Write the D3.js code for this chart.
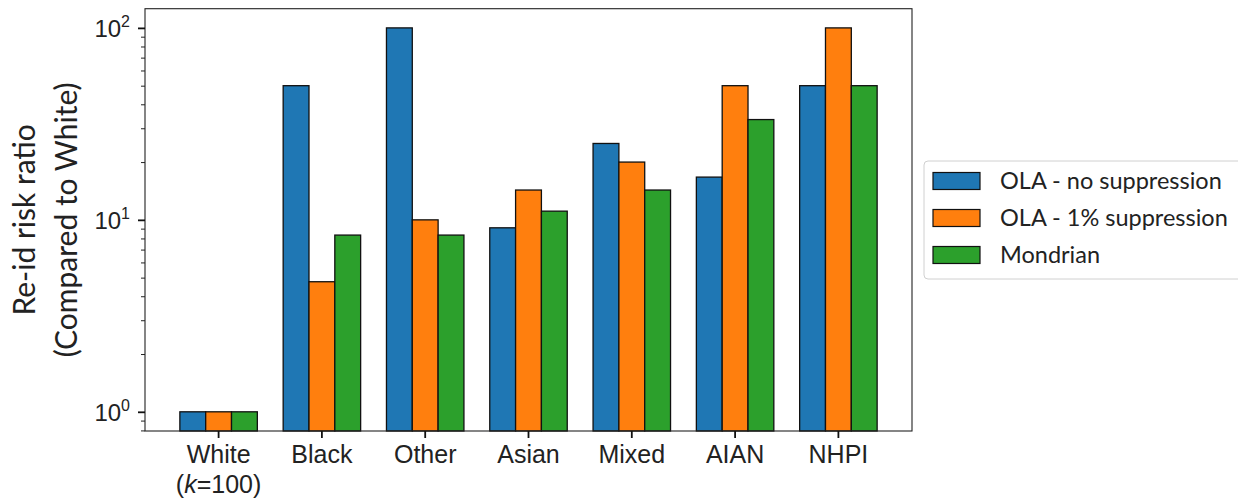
<!DOCTYPE html>
<html>
<head>
<meta charset="utf-8">
<script src="https://cdn.jsdelivr.net/npm/d3@7"></script>
<style>
  html, body { margin: 0; padding: 0; background: #fff; }
  svg { display: block; font-family: Lato, "DejaVu Sans", sans-serif; }
</style>
</head>
<body>
<svg id="chart" width="1238" height="502"></svg>
<script>
// Re-identification risk per group, relative to the White group (k = 100)
const groups = ["White", "Black", "Other", "Asian", "Mixed", "AIAN", "NHPI"];
const seriesNames = ["OLA - no suppression", "OLA - 1% suppression", "Mondrian"];
const olaNoSuppression = [1, 50, 100, 9.09, 25, 16.7, 50];
const ola1Suppression  = [1, 4.76, 10, 14.3, 20, 50, 100];
const mondrian         = [1, 8.33, 8.33, 11.1, 14.3, 33.3, 50];
const seriesColors = ["#1f77b4", "#ff7f0e", "#2ca02c"];
const yMajorTicks = [1, 10, 100];
const yTickExponents = ["0", "1", "2"];

const series = [olaNoSuppression, ola1Suppression, mondrian];

const svg = d3.select("#chart");
const plotLeft = 145, plotRight = 912, plotTop = 8.7, plotBottom = 431;

const x = d3.scaleBand()
  .domain(groups)
  .range([plotLeft, plotRight])
  .paddingInner(0.25)
  .paddingOuter(0.3375);

const xSub = d3.scaleBand()
  .domain(d3.range(series.length))
  .range([0, x.bandwidth()]);

const y = d3.scaleLog()
  .domain([Math.pow(10, -0.1), Math.pow(10, 2.1)])
  .range([plotBottom, plotTop]);

// bars
const plot = svg.append("g");
series.forEach((vals, si) => {
  plot.selectAll(null)
    .data(groups.map((g, i) => ({ g, v: vals[i] })))
    .join("rect")
    .attr("x", d => x(d.g) + xSub(si))
    .attr("y", d => y(d.v))
    .attr("width", xSub.bandwidth())
    .attr("height", d => plotBottom - y(d.v))
    .attr("fill", seriesColors[si])
    .attr("stroke", "#111")
    .attr("stroke-width", 1.3);
});

// frame
svg.append("rect")
  .attr("x", plotLeft).attr("y", plotTop)
  .attr("width", plotRight - plotLeft).attr("height", plotBottom - plotTop)
  .attr("fill", "none").attr("stroke", "#222").attr("stroke-width", 1.1);

// y axis: minor ticks
const minorTicks = [];
for (let e = -1; e <= 2; e++) {
  for (let m = 2; m <= 9; m++) {
    const v = m * Math.pow(10, e);
    if (v >= y.domain()[0] && v <= y.domain()[1]) minorTicks.push(v);
  }
}
const yMinor = svg.append("g")
  .attr("transform", `translate(${plotLeft},0)`)
  .call(d3.axisLeft(y).tickValues(minorTicks).tickSize(4).tickFormat(""));
yMinor.select(".domain").remove();
yMinor.selectAll(".tick line").attr("stroke", "#222").attr("stroke-width", 1);

// y axis: major ticks with power-of-ten labels
const yMajor = svg.append("g")
  .attr("transform", `translate(${plotLeft},0)`)
  .call(d3.axisLeft(y).tickValues(yMajorTicks).tickSize(7).tickPadding(14).tickFormat(""));
yMajor.select(".domain").remove();
yMajor.selectAll(".tick line").attr("stroke", "#111").attr("stroke-width", 1.8);
yMajor.selectAll(".tick").each(function (d, i) {
  const t = d3.select(this).append("text")
    .attr("x", -15)
    .attr("y", 9)
    .attr("text-anchor", "end")
    .attr("fill", "#222")
    .style("font-size", "24px");
  t.append("tspan").text("10");
  t.append("tspan")
    .attr("dy", -10)
    .style("font-size", "16px")
    .text(yTickExponents[i]);
});

// x axis
const xAxis = svg.append("g")
  .attr("transform", `translate(0,${plotBottom})`)
  .call(d3.axisBottom(x).tickSize(7).tickFormat(""));
xAxis.select(".domain").remove();
xAxis.selectAll(".tick line").attr("stroke", "#111").attr("stroke-width", 1.8);
xAxis.selectAll(".tick").each(function (d) {
  const t = d3.select(this).append("text")
    .attr("y", 32)
    .attr("text-anchor", "middle")
    .attr("fill", "#222")
    .style("font-size", "25px")
    .text(d);
  if (d === "White") {
    const t2 = d3.select(this).append("text")
      .attr("y", 62)
      .attr("text-anchor", "middle")
      .attr("fill", "#222")
      .style("font-size", "25px");
    t2.append("tspan").text("(");
    t2.append("tspan").style("font-style", "italic").text("k");
    t2.append("tspan").text("=100)");
  }
});

// y axis title
const yTitle = svg.append("text")
  .attr("transform", `translate(0,${(plotTop + plotBottom) / 2}) rotate(-90)`)
  .attr("text-anchor", "middle")
  .attr("fill", "#222")
  .style("font-size", "30px");
yTitle.append("tspan").attr("x", 0).attr("y", 35).text("Re-id risk ratio");
yTitle.append("tspan").attr("x", 0).attr("y", 77).text("(Compared to White)");

// legend
const legend = svg.append("g").attr("transform", "translate(924,161)");
legend.append("rect")
  .attr("x", 0).attr("y", 0)
  .attr("width", 330).attr("height", 118)
  .attr("rx", 4)
  .attr("fill", "#fff")
  .attr("stroke", "#d0d0d0")
  .attr("stroke-width", 1);
seriesNames.forEach((name, i) => {
  const cy = 20 + i * 37;
  legend.append("rect")
    .attr("x", 9).attr("y", cy - 8.5)
    .attr("width", 47).attr("height", 17)
    .attr("fill", seriesColors[i])
    .attr("stroke", "#111")
    .attr("stroke-width", 1.2);
  legend.append("text")
    .attr("x", 76).attr("y", cy + 7.5)
    .attr("fill", "#222")
    .style("font-size", "23.5px")
    .text(name);
});
</script>
</body>
</html>
